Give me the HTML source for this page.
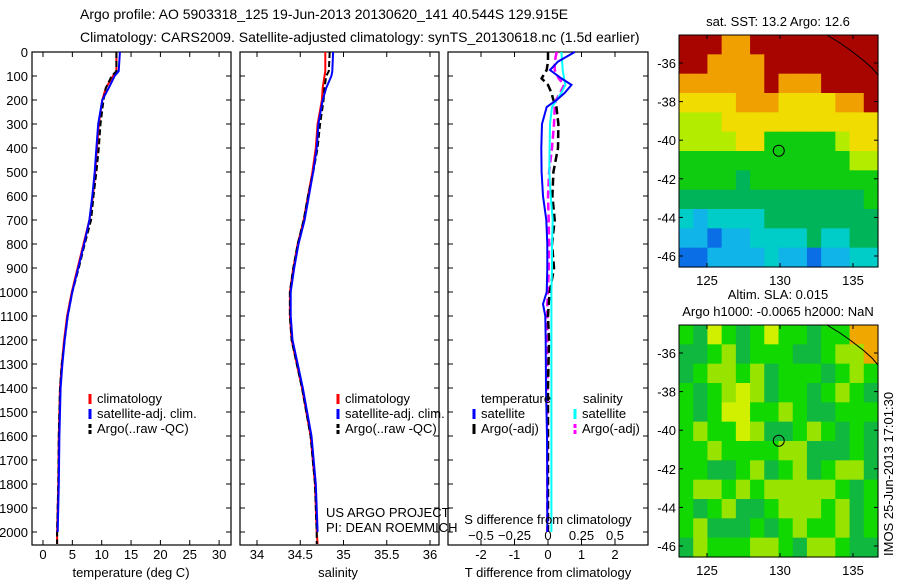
<!DOCTYPE html>
<html><head><meta charset="utf-8"><style>
body{margin:0;background:#fff}
svg{display:block;font-family:"Liberation Sans",sans-serif}
</style></head><body>
<svg id="c" width="900" height="580" xmlns="http://www.w3.org/2000/svg">
<rect width="900" height="580" fill="#fff"/>
<text x="80" y="19" font-size="14">Argo profile: AO 5903318_125 19-Jun-2013 20130620_141 40.544S 129.915E</text>
<text x="80" y="42" font-size="14">Climatology: CARS2009. Satellite-adjusted climatology: synTS_20130618.nc (1.5d earlier)</text>
</svg>
<script>
const depths=[0,80,100,150,200,300,400,500,600,700,800,900,1000,1100,1200,1300,1400,1600,1800,2000,2050];
const tempClim=[12.5,12.5,11.9,10.7,10.1,9.5,9.2,8.9,8.5,7.9,6.9,5.9,4.9,4.1,3.6,3.2,2.9,2.7,2.6,2.4,2.4];
const tempSat=[13.1,12.9,12.2,11.2,10.1,9.4,9.1,8.8,8.4,7.9,7.0,6.0,5.0,4.2,3.7,3.3,3.0,2.8,2.7,2.5,2.5];
const tempArgo=[12.5,12.5,11.7,10.7,10.3,9.8,9.5,9.1,8.6,8.2,7.1,6.1,5.0,4.2,3.7,3.2,2.9,2.7,2.6,2.4,2.4];
const salClim=[34.79,34.79,34.78,34.76,34.75,34.70,34.68,34.64,34.59,34.54,34.47,34.42,34.38,34.38,34.40,34.46,34.52,34.62,34.67,34.69,34.70];
const salSat=[34.88,34.87,34.86,34.80,34.76,34.71,34.69,34.65,34.60,34.55,34.48,34.43,34.39,34.39,34.41,34.47,34.53,34.63,34.68,34.70,34.70];
const salArgo=[34.84,34.83,34.80,34.78,34.77,34.73,34.70,34.65,34.59,34.54,34.47,34.42,34.38,34.38,34.40,34.46,34.52,34.62,34.67,34.69,34.69];
const diffDepths=[0,40,75,110,137,170,200,229,300,400,500,600,700,800,900,1000,1050,1100,1200,1400,1600,1800,2000];
const tDiffSat=[0.8,0.3,0.06,0.4,0.7,0.5,0.26,-0.04,-0.18,-0.2,-0.19,-0.15,-0.05,-0.02,-0.02,-0.04,-0.15,-0.08,-0.07,-0.06,-0.03,-0.02,-0.02];
const tDiffArgo=[0,0,-0.04,-0.19,0,0.1,0.16,0.25,0.31,0.3,0.16,0.13,0.2,0.12,0.18,0.05,0.02,0,0.03,0,0,0,0];
const sDiffSat=[0.10,0.105,0.11,0.12,0.13,0.1,0.065,0.03,0.015,0.012,0.01,0.02,0.035,0.03,0.03,0.025,0.025,0.025,0.025,0.025,0.025,0.025,0.025];
const sDiffArgo=[0.065,0.05,0.05,0.08,0.12,0.09,0.06,0.05,0.045,0.03,0.008,0,0.005,0.008,0.005,0,-0.005,-0.005,-0.005,-0.005,-0.005,-0.005,-0.005];
const depthTicks=[0,100,200,300,400,500,600,700,800,900,1000,1100,1200,1300,1400,1500,1600,1700,1800,1900,2000];
const tempTicks=[0,5,10,15,20,25,30];
const salTicks=[34,34.5,35,35.5,36];
const tDiffTicks=[-2,-1,0,1,2];
const sDiffTicks=[-0.5,-0.25,0,0.25,0.5];
const sstGrid=["99988999999999","99888899999999","88888898889999","77778887777889","66677777777777","66667755555677","55555555555566","55554555555555","44444444444445","32333344444444","22122333343344","11222232212233"];
const slaGrid=["gdYgdgYggdggoo","ddgydgggddgyyo","dgyygydgggdgyg","gdgyYydggdgygd","gdgYYggygddggg","gyggYyddgygdgd","ggyggggyydddgd","ggddgydgydgyyd","gyygygyyyyygdg","gdgyddgyyygydg","gydddgdgyggydg","dygggyygdyygdd"];
const lonTicks=[125,130,135];
const latTicks=[-36,-38,-40,-42,-44,-46];

const svg=document.getElementById('c');
const NS='http://www.w3.org/2000/svg';
function mk(tag,attrs,parent){const e=document.createElementNS(NS,tag);for(const k in attrs)e.setAttribute(k,attrs[k]);(parent||svg).appendChild(e);return e;}
function txt(x,y,s,size,anchor,parent){const t=mk('text',{x:x,y:y,'font-size':size,'text-anchor':anchor||'start'},parent);t.textContent=s;return t;}
const Y=d=>52+d*0.24;
const TOP=52,BOT=545;
const FS=13;

function panel(name,x0,x1,sx,ticks,labelY,showDepthLabels){
  const g=mk('g',{});
  
  
  const r=mk('rect',{x:x0,y:TOP,width:x1-x0,height:BOT-TOP,fill:'none',stroke:'#000','stroke-width':1.2},g);
  
  
  depthTicks.forEach(d=>{
    mk('line',{x1:x0,x2:x0+5,y1:Y(d),y2:Y(d),stroke:'#000'},g);
    mk('line',{x1:x1-5,x2:x1,y1:Y(d),y2:Y(d),stroke:'#000'},g);
    if(showDepthLabels){const t=txt(x0-4,Y(d)+5,String(d),FS,'end',g);
      
      }
  });
  ticks.forEach(v=>{
    const x=sx(v);
    mk('line',{x1:x,x2:x,y1:TOP,y2:TOP+5,stroke:'#000'},g);
    mk('line',{x1:x,x2:x,y1:BOT-5,y2:BOT,stroke:'#000'},g);
    if(labelY){const t=txt(x,labelY,String(v),FS,'middle',g);
      
      }
  });
  return g;
}
function line(g,name,xs,ds,sx,color,w,dash){
  const pts=xs.map((v,i)=>sx(v).toFixed(1)+','+Y(ds[i]).toFixed(1)).join(' ');
  const p=mk('polyline',{points:pts,fill:'none',stroke:color,'stroke-width':w,'stroke-dasharray':dash||'none'},g);
  
  
}
function legend(g,x,y,color,label,dash){
  const l=mk('line',{x1:x,x2:x,y1:y-9,y2:y+1,stroke:color,'stroke-width':3,'stroke-dasharray':dash||'none'},g);
  
  
  const t=txt(x+7,y,label,FS,'start',g);
  
  
}

const sxT=v=>43+v*5.87;
const g1=panel('temperature-panel',32,231,sxT,tempTicks,559,true);
line(g1,'temp-climatology',tempClim,depths,sxT,'#f00',2);
line(g1,'temp-argo',tempArgo,depths,sxT,'#000',2,'6,3');
line(g1,'temp-satellite',tempSat.slice(0,20),depths.slice(0,20),sxT,'#00f',2);
legend(g1,90,403,'#f00','climatology');
legend(g1,90,418,'#00f','satellite-adj. clim.');
legend(g1,90,433,'#000','Argo(..raw -QC)','4,2');
let t=txt(131,577,'temperature (deg C)',FS,'middle',g1);



const sxS=v=>257+(v-34)*86.5;
const g2=panel('salinity-panel',240,439,sxS,salTicks,559,false);
line(g2,'sal-climatology',salClim,depths,sxS,'#f00',2);
line(g2,'sal-argo',salArgo,depths,sxS,'#000',2,'6,3');
line(g2,'sal-satellite',salSat.slice(0,20),depths.slice(0,20),sxS,'#00f',2);
legend(g2,338,403,'#f00','climatology');
legend(g2,338,418,'#00f','satellite-adj. clim.');
legend(g2,338,433,'#000','Argo(..raw -QC)','4,2');
t=txt(338,577,'salinity',FS,'middle',g2);


t=txt(326,517,'US ARGO PROJECT',FS,'start',g2);


t=txt(326,532,'PI: DEAN ROEMMICH',FS,'start',g2);



const sxD=v=>548+v*33.5;
const sxSD=v=>548+v*134;
const g3=panel('difference-panel',448,648,sxD,tDiffTicks,559,false);
sDiffTicks.forEach(v=>{const tt=txt(sxSD(v),540,String(v).replace('-','\u2212'),FS,'middle',g3);
  
  });
line(g3,'s-diff-argo',sDiffArgo,diffDepths,sxSD,'#f0f',2.5,'8,4');
line(g3,'t-diff-argo',tDiffArgo,diffDepths,sxD,'#000',2.5,'8,4');
line(g3,'s-diff-satellite',sDiffSat,diffDepths,sxSD,'#0ff',2);
line(g3,'t-diff-satellite',tDiffSat,diffDepths,sxD,'#00f',2);
t=txt(481,403,'temperature',FS,'start',g3);
t=txt(583,403,'salinity',FS,'start',g3);
legend(g3,474,418,'#00f','satellite');
legend(g3,474,433,'#000','Argo(-adj)');
legend(g3,575,418,'#0ff','satellite');
legend(g3,575,433,'#f0f','Argo(-adj)','4,2');
t=txt(548,524,'S difference from climatology',FS,'middle',g3);
t=txt(548,577,'T difference from climatology',FS,'middle',g3);

const sstColors={'1':'#0a6ee6','2':'#10b4e8','3':'#00ccc8','4':'#00b45a','5':'#10cc10','6':'#b4ec00','7':'#f0dc00','8':'#f0a000','9':'#a80400'};
const slaColors={'d':'#10b840','g':'#10d800','y':'#98e400','Y':'#d0f000','o':'#f0a800'};
function map(name,y0,grid,colors,title1,title2){
  const x0=679,x1=878,y1=y0+232;
  const g=mk('g',{});
  
  
  const cw=(x1-x0)/14,ch=(y1-y0)/12;
  grid.forEach((row,r)=>{for(let c=0;c<row.length;c++){
    const cell=mk('rect',{x:x0+c*cw,y:y0+r*ch,width:cw+0.6,height:ch+0.6,fill:colors[row[c]]},g);
    
    
  }});
  const lx=v=>707+(v-125)*14.6, ly=v=>y0+28+(-36-v)*19.3;
  const coast=mk('polyline',{points:[[827,y0],[840,y0+8],[850,y0+15],[863,y0+25],[872,y0+33],[878,y0+40]].map(p=>p.join(',')).join(' '),fill:'none',stroke:'#000','stroke-width':1},g);
  
  
  mk('rect',{x:x0,y:y0,width:x1-x0,height:y1-y0,fill:'none',stroke:'#000'},g);
  lonTicks.forEach(v=>{mk('line',{x1:lx(v),x2:lx(v),y1:y0,y2:y0+4,stroke:'#000'},g);mk('line',{x1:lx(v),x2:lx(v),y1:y1-4,y2:y1,stroke:'#000'},g);
    const tt=txt(lx(v),y1+18,String(v),FS,'middle',g);});
  latTicks.forEach(v=>{mk('line',{x1:x0,x2:x0+4,y1:ly(v),y2:ly(v),stroke:'#000'},g);mk('line',{x1:x1-4,x2:x1,y1:ly(v),y2:ly(v),stroke:'#000'},g);
    const tt=txt(x0-3,ly(v)+5,String(v),FS,'end',g);});
  const m=mk('circle',{cx:lx(129.915),cy:ly(-40.544),r:5.5,fill:'none',stroke:'#000','stroke-width':1},g);
  
  
  let tt=txt(778,title2?y0-26:y0-9,title1,FS,'middle',g);
  if(title2){tt=txt(778,y0-9,title2,FS,'middle',g);}
}
map('sst-map',35,sstGrid,sstColors,'sat. SST: 13.2 Argo: 12.6');
map('sla-map',325,slaGrid,slaColors,'Altim. SLA: 0.015','Argo h1000: -0.0065 h2000: NaN');
t=txt(0,0,'IMOS 25-Jun-2013 17:01:30',FS,'start');
t.setAttribute('transform','translate(893,556) rotate(-90)');


</script>
</body></html>
